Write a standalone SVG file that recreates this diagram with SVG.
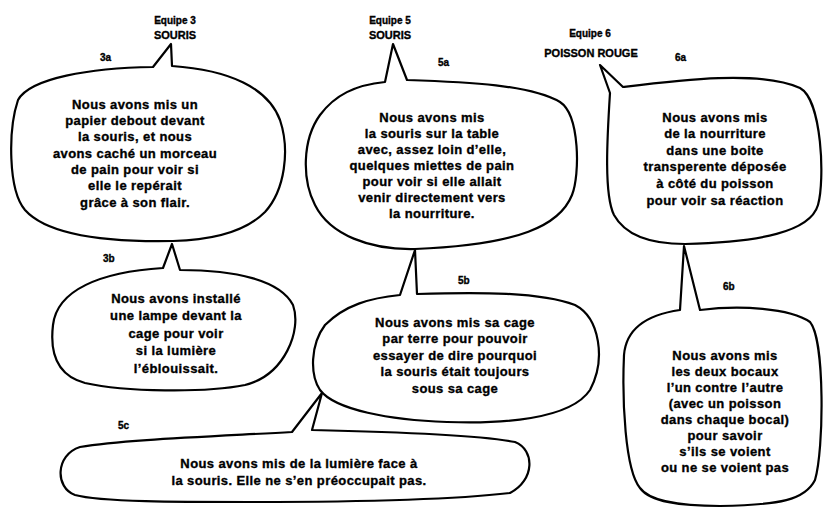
<svg xmlns="http://www.w3.org/2000/svg" width="825" height="509" viewBox="0 0 825 509">
<style>
.b{fill:none;stroke:#000;stroke-width:2.2;stroke-linejoin:round;stroke-linecap:round}
text{font-family:"Liberation Sans",Arial,sans-serif;font-weight:bold;fill:#000;stroke:#000;stroke-width:0.35}
.t{font-size:13px;letter-spacing:0.4px;text-anchor:middle}
.l{font-size:10px}
.e{font-size:10px;text-anchor:middle}
.n{font-size:11px;text-anchor:middle}
</style>
<rect width="825" height="509" fill="#fff"/>
<g id="labels">
<text class="e" x="175" y="24">Equipe 3</text>
<text class="n" x="175" y="39">SOURIS</text>
<text class="e" x="390" y="24">Equipe 5</text>
<text class="n" x="390" y="39">SOURIS</text>
<text class="e" x="590" y="37">Equipe 6</text>
<text class="n" x="591" y="57">POISSON ROUGE</text>
</g>
<g id="connectors">
</g>
<g id="n3a">
<path class="b" d="M172,66 C230,70 268,88 280,120 C290,150 285,190 265,212 C245,232 210,240 173,241 C120,242 50,238 25,210 C8,190 8,130 18,100 C30,78 90,68 153,67 L171,44 Z"/>
<text class="l" x="100" y="61">3a</text>
<text class="t"><tspan x="135" y="108.5">Nous avons mis un</tspan><tspan x="135" y="124.8">papier debout devant</tspan><tspan x="135" y="141.2">la souris, et nous</tspan><tspan x="135" y="157.5">avons caché un morceau</tspan><tspan x="135" y="173.8">de pain pour voir si</tspan><tspan x="135" y="190.2">elle le repérait</tspan><tspan x="135" y="206.5">grâce à son flair.</tspan></text>
</g>
<g id="n3b">
<path class="b" d="M180,270 C235,270 280,280 293,305 C302,330 285,375 245,385 C205,393 125,392 85,383 C55,375 50,350 53,325 C57,290 100,272 163,268 L172,244 Z"/>
<text class="l" x="103" y="262">3b</text>
<text class="t"><tspan x="176" y="302.5">Nous avons installé</tspan><tspan x="176" y="320">une lampe devant la</tspan><tspan x="176" y="337.5">cage pour voir</tspan><tspan x="176" y="355">si la lumière</tspan><tspan x="176" y="372.5">l’éblouissait.</tspan></text>
</g>
<g id="n5a">
<path class="b" d="M407,80 C470,82 530,85 560,102 C580,115 580,175 572,195 C560,225 520,245 415,249 C370,250 330,235 315,205 C302,180 302,140 320,115 C335,95 355,85 385,82 L393,44 Z"/>
<text class="l" x="438" y="66">5a</text>
<text class="t"><tspan x="432" y="121.5">Nous avons mis</tspan><tspan x="432" y="137.5">la souris sur la table</tspan><tspan x="432" y="153.5">avec, assez loin d’elle,</tspan><tspan x="432" y="169.5">quelques miettes de pain</tspan><tspan x="432" y="185.5">pour voir si elle allait</tspan><tspan x="432" y="201.5">venir directement vers</tspan><tspan x="432" y="217.5">la nourriture.</tspan></text>
</g>
<g id="n5b">
<path class="b" d="M417,294 C480,292 540,292 575,305 C600,318 606,360 590,390 C570,420 500,424 447,422 C390,420 335,410 320,390 C310,375 310,345 325,325 C345,305 370,298 400,295 L415,250 Z"/>
<text class="l" x="458" y="284">5b</text>
<text class="t"><tspan x="455" y="326.5">Nous avons mis sa cage</tspan><tspan x="455" y="343">par terre pour pouvoir</tspan><tspan x="455" y="359.5">essayer de dire pourquoi</tspan><tspan x="455" y="376">la souris était toujours</tspan><tspan x="455" y="392.5">sous sa cage</tspan></text>
</g>
<g id="n5c">
<path class="b" d="M312,430 C400,432 480,435 515,442 C535,450 535,480 510,493 C450,500 350,502 250,502 C180,502 100,502 75,495 C55,488 55,455 80,447 C120,440 200,437 292,432 L322,393 Z"/>
<text class="l" x="118" y="429">5c</text>
<text class="t"><tspan x="299" y="467.5">Nous avons mis de la lumière face à</tspan><tspan x="299" y="484.5">la souris. Elle ne s’en préoccupait pas.</tspan></text>
</g>
<g id="n6a">
<path class="b" d="M623,87 C680,80 760,70 800,88 C822,100 825,180 818,205 C810,232 760,242 685,244 C650,244 625,235 614,215 C604,195 607,140 610,93 L600,65 Z"/>
<text class="l" x="675" y="61">6a</text>
<text class="t"><tspan x="715" y="121.5">Nous avons mis</tspan><tspan x="715" y="138">de la nourriture</tspan><tspan x="715" y="154.7">dans une boite</tspan><tspan x="715" y="171.3">transperente déposée</tspan><tspan x="715" y="188">à côté du poisson</tspan><tspan x="715" y="204.5">pour voir sa réaction</tspan></text>
</g>
<g id="n6b">
<path class="b" d="M700,310 C740,305 790,308 810,322 C825,340 824,450 815,480 C805,500 780,505 720,506 C680,506 650,502 640,488 C625,470 622,400 624,355 C626,330 645,315 680,310 L684,246 Z"/>
<text class="l" x="723" y="290">6b</text>
<text class="t"><tspan x="725" y="359.5">Nous avons mis</tspan><tspan x="725" y="375.5">les deux bocaux</tspan><tspan x="725" y="391.5">l’un contre l’autre</tspan><tspan x="725" y="407.5">(avec un poisson</tspan><tspan x="725" y="423.5">dans chaque bocal)</tspan><tspan x="725" y="439.5">pour savoir</tspan><tspan x="725" y="455.5">s’ils se voient</tspan><tspan x="725" y="471.5">ou ne se voient pas</tspan></text>
</g>
</svg>
